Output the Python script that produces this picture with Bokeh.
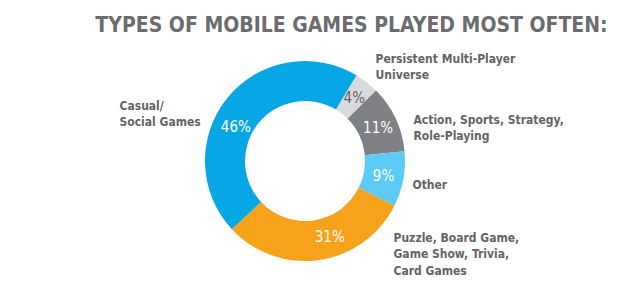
from bokeh.plotting import figure
from bokeh.models import Range1d
from bokeh.core.properties import value
from bokeh.embed import file_html
from bokeh.resources import INLINE
import math

# ---- data ----
categories = ["Persistent Multi-Player Universe",
              "Action, Sports, Strategy, Role-Playing",
              "Other",
              "Puzzle, Board Game, Game Show, Trivia, Card Games",
              "Casual/ Social Games"]
shares = [4, 11, 9, 31, 46]
pct_labels = ["4%", "11%", "9%", "31%", "46%"]
colors = ["#D9DADB", "#808184", "#5CCBF5", "#F6A21B", "#07A6E5"]
title_text = "TYPES OF MOBILE GAMES PLAYED MOST OFTEN:"

W, H = 640, 294
p = figure(width=W, height=H, output_backend="svg", toolbar_location=None,
           x_axis_type=None, y_axis_type=None, min_border=0,
           x_range=Range1d(0, W), y_range=Range1d(0, H))
p.grid.visible = False
p.outline_line_color = None
p.background_fill_color = "white"
p.border_fill_color = "white"

def Y(y):
    return H - y

cx, cy = 304.5, Y(160.5)
r_out, r_in = 100, 60
start_cw = 31.0  # degrees clockwise from top where first slice starts
total = float(sum(shares))

text_col = "#636467"
font_n = value("DejaVu Sans Condensed")

cum = start_cw
starts, ends = [], []
for s in shares:
    a0 = cum
    a1 = cum + s / total * 360.0
    starts.append(math.radians(90 - a0))
    ends.append(math.radians(90 - a1))
    cum = a1

p.annular_wedge(x=[cx] * len(shares), y=[cy] * len(shares), inner_radius=r_in,
                outer_radius=r_out, start_angle=starts, end_angle=ends,
                direction="clock", fill_color=colors, line_color=None)

# percent labels (angle clockwise from top, radius)
lab_pos = [(38, 80), (66, 80), (101, 80), (162, 80), (296, 77)]
pct_cols = ["#636467", "white", "white", "white", "white"]
for lbl, (ang, rr), c in zip(pct_labels, lab_pos, pct_cols):
    a = math.radians(ang)
    p.text(x=[cx + rr * math.sin(a)], y=[cy + rr * math.cos(a)], text=[lbl],
           text_color=c, text_font=font_n, text_font_size="15px",
           text_align="center", text_baseline="middle")

# title
p.text(x=[351], y=[Y(24)], text=[title_text], text_color="#6B6C6F",
       text_font=font_n, text_font_style="bold", text_font_size="21px",
       text_align="center", text_baseline="middle")

# category labels
cat_lines = [["Persistent Multi-Player", "Universe"],
             ["Action, Sports, Strategy,", "Role-Playing"],
             ["Other"],
             ["Puzzle, Board Game,", "Game Show, Trivia,", "Card Games"],
             ["Casual/", "Social Games"]]
cat_anchor = [(375, 58), (413, 119), (412, 184), (393, 237), (119, 105)]
line_h = 16.5
for lines, (lx, ly) in zip(cat_lines, cat_anchor):
    for i, t in enumerate(lines):
        p.text(x=[lx], y=[Y(ly + i * line_h)], text=[t], text_color=text_col,
               text_font=font_n, text_font_style="bold", text_font_size="12px",
               text_align="left", text_baseline="middle")

open("out.html", "w").write(file_html(p, INLINE))
